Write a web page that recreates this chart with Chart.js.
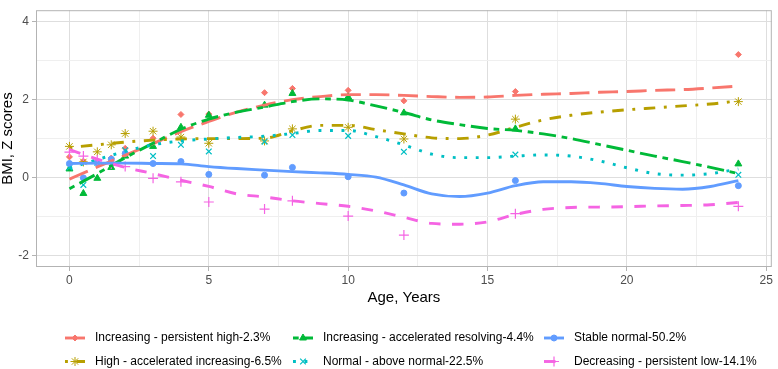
<!DOCTYPE html>
<html>
<head>
<meta charset="utf-8">
<script src="https://cdn.jsdelivr.net/npm/chart.js@4.4.1/dist/chart.umd.min.js"></script>
<style>
  html, body { margin: 0; padding: 0; background: #fff; }
  #wrap { width: 778px; height: 369px; }
</style>
</head>
<body>
<div id="wrap"><canvas id="bmi-chart" width="778" height="369"></canvas></div>
<script>
// Observed BMI z-scores per trajectory group, by age (years)
const ages = [0, 0.5, 1, 1.5, 2, 3, 4, 5, 7, 8, 10, 12, 16, 24];
const persistentHigh = [0.53, 0.42, 0.38, 0.50, 0.75, 1.01, 1.62, 1.63, 2.18, 2.29, 2.24, 1.97, 2.21, 3.16];
const highAccelerated = [0.80, 0.40, 0.66, 0.84, 1.13, 1.19, 1.04, 0.88, 0.94, 1.25, 1.29, 0.99, 1.50, 1.95];
const accelResolving = [0.22, -0.41, -0.02, 0.26, 0.55, 0.80, 1.29, 1.60, 1.86, 2.16, 2.07, 1.66, 1.25, 0.35];
const aboveNormal = [0.26, -0.19, 0.38, 0.43, 0.70, 0.55, 0.84, 0.67, 0.92, 1.09, 1.07, 0.66, 0.59, 0.07];
const stableNormal = [0.36, -0.01, 0.38, 0.47, 0.62, 0.36, 0.41, 0.08, 0.06, 0.26, 0.02, -0.40, -0.08, -0.21];
const persistentLow = [0.65, 0.55, 0.45, 0.35, 0.28, -0.02, -0.11, -0.63, -0.81, -0.60, -0.99, -1.48, -0.93, -0.74];

// Smoothed curves at whole years
const fitAges = [0, 1, 2, 3, 4, 5, 6, 7, 8, 9, 10, 11, 12, 13, 14, 15, 16, 17, 18, 19, 20, 21, 22, 23, 24];
const persistentHighFit = [-0.04, 0.27, 0.57, 0.87, 1.18, 1.44, 1.68, 1.86, 2.00, 2.08, 2.13, 2.13, 2.11, 2.08, 2.06, 2.07, 2.11, 2.14, 2.16, 2.19, 2.21, 2.24, 2.26, 2.30, 2.35];
const highAcceleratedFit = [0.77, 0.84, 0.91, 0.96, 0.99, 1.00, 1.00, 1.01, 1.20, 1.34, 1.34, 1.23, 1.12, 1.02, 1.00, 1.09, 1.29, 1.48, 1.60, 1.68, 1.74, 1.79, 1.84, 1.89, 1.97];
const accelResolvingFit = [-0.29, 0.10, 0.51, 0.88, 1.24, 1.50, 1.68, 1.81, 1.95, 2.02, 1.99, 1.84, 1.67, 1.48, 1.36, 1.26, 1.21, 1.12, 1.00, 0.85, 0.70, 0.55, 0.41, 0.26, 0.10];
const aboveNormalFit = [0.24, 0.46, 0.67, 0.84, 0.94, 0.99, 1.03, 1.06, 1.13, 1.21, 1.21, 1.05, 0.84, 0.60, 0.51, 0.51, 0.55, 0.58, 0.55, 0.43, 0.25, 0.10, 0.06, 0.10, 0.22];
const stableNormalFit = [0.36, 0.37, 0.37, 0.36, 0.35, 0.28, 0.23, 0.19, 0.15, 0.12, 0.08, 0.01, -0.19, -0.42, -0.49, -0.40, -0.21, -0.11, -0.11, -0.15, -0.23, -0.28, -0.30, -0.23, -0.08];
const persistentLowFit = [0.72, 0.47, 0.26, 0.10, -0.07, -0.23, -0.42, -0.50, -0.60, -0.67, -0.74, -0.86, -1.02, -1.18, -1.20, -1.14, -0.95, -0.82, -0.77, -0.76, -0.75, -0.73, -0.72, -0.70, -0.64];

// Axis ticks (major ones get labels)
const xGrid = [0, 2.5, 5, 7.5, 10, 12.5, 15, 17.5, 20, 22.5, 25];
const xLabels = [0, 5, 10, 15, 20, 25];
const yGrid = [-2, -1, 0, 1, 2, 3, 4];
const yLabels = [-2, 0, 2, 4];

const FONT = '"Liberation Sans", Arial, sans-serif';

// group order as in the legend (column-wise fill, 2 rows)
const groups = [
    { label: 'Increasing - persistent high-2.3%', pts: persistentHigh, fit: persistentHighFit,
      color: '#F8766D', dash: [20, 8.6], pointStyle: 'rectRot', radius: 3, pw: 1 },
    { label: 'High - accelerated increasing-6.5%', pts: highAccelerated, fit: highAcceleratedFit,
      color: '#B79F00', dash: [2.9, 8.6, 11.5, 8.6], pointStyle: 'star', radius: 4.5, pw: 1 },
    { label: 'Increasing - accelerated resolving-4.4%', pts: accelResolving, fit: accelResolvingFit,
      color: '#00BA38', dash: [5.7, 5.7, 17.2, 5.7], pointStyle: 'triangle', radius: 4, pw: 1 },
    { label: 'Normal - above normal-22.5%', pts: aboveNormal, fit: aboveNormalFit,
      color: '#00BFC4', dash: [2.9, 8.6], pointStyle: 'crossRot', radius: 4, pw: 1.2 },
    { label: 'Stable normal-50.2%', pts: stableNormal, fit: stableNormalFit,
      color: '#619CFF', dash: [], pointStyle: 'circle', radius: 3, pw: 1 },
    { label: 'Decreasing - persistent low-14.1%', pts: persistentLow, fit: persistentLowFit,
      color: '#F564E3', dash: [11.5, 11.5], pointStyle: 'cross', radius: 5, pw: 1.2 }
];

function buildDatasets() {
    const sets = [];
    groups.forEach((g, i) => {
        sets.push({
            type: 'scatter',
            label: g.label + ' points',
            data: ages.map((a, j) => ({ x: a, y: g.pts[j] })),
            showLine: false,
            pointStyle: g.pointStyle,
            pointRadius: g.radius,
            pointBorderWidth: g.pw,
            backgroundColor: g.color,
            borderColor: g.color,
            order: 20 - i
        });
        sets.push({
            type: 'line',
            label: g.label,
            data: fitAges.map((a, j) => ({ x: a, y: g.fit[j] })),
            borderColor: g.color,
            borderWidth: 2.9,
            borderDash: g.dash,
            pointRadius: 0,
            fill: false,
            cubicInterpolationMode: 'monotone',
            order: 10 - i
        });
    });
    return sets;
}

// full grey frame round the panel
const panelBorder = {
    id: 'panelBorder',
    afterDatasetsDraw(chart) {
        const { ctx, chartArea: a } = chart;
        ctx.save();
        ctx.strokeStyle = '#b3b3b3';
        ctx.lineWidth = 1;
        ctx.strokeRect(a.left + 0.5, a.top + 0.5, a.right - a.left - 1, a.bottom - a.top - 1);
        ctx.restore();
    }
};

// legend laid out as a 3 x 2 grid like the original
const legendCols = [65, 293, 544];
const legendRows = [338, 361.5];
const gridLegend = {
    id: 'gridLegend',
    afterDraw(chart) {
        const ctx = chart.ctx;
        ctx.save();
        groups.forEach((g, i) => {
            const x = legendCols[Math.floor(i / 2)];
            const y = legendRows[i % 2];
            ctx.strokeStyle = g.color;
            ctx.fillStyle = g.color;
            ctx.lineWidth = 2.9;
            ctx.setLineDash(g.dash);
            ctx.beginPath();
            ctx.moveTo(x, y);
            ctx.lineTo(x + 20, y);
            ctx.stroke();
            ctx.setLineDash([]);
            ctx.lineWidth = g.pw; // drawPoint does not set the stroke width itself
            Chart.helpers.drawPoint(ctx, {
                pointStyle: g.pointStyle, radius: g.radius, borderWidth: g.pw, rotation: 0
            }, x + 10, y);
            ctx.fillStyle = '#000';
            ctx.font = '12px ' + FONT;
            ctx.textBaseline = 'middle';
            ctx.textAlign = 'left';
            ctx.fillText(g.label, x + 30, y);
        });
        ctx.restore();
    }
};

let bmiChart = null;
function createBmiChart() {
    const ctx = document.getElementById('bmi-chart').getContext('2d');
    bmiChart = new Chart(ctx, {
        type: 'line',
        data: { datasets: buildDatasets() },
        options: {
            responsive: false,
            animation: false,
            events: [],
            layout: { padding: { top: 0, right: 1, bottom: 62, left: 0 } },
            plugins: {
                legend: { display: false },
                tooltip: { enabled: false }
            },
            scales: {
                x: {
                    type: 'linear',
                    min: -1.2,
                    max: 25.2,
                    afterBuildTicks: axis => { axis.ticks = xGrid.map(v => ({ value: v })); },
                    afterFit: axis => { axis.height = 40; },
                    ticks: {
                        autoSkip: false,
                        maxRotation: 0,
                        padding: 2,
                        color: '#4d4d4d',
                        font: { size: 12, family: FONT },
                        callback: v => xLabels.includes(v) ? String(v) : ''
                    },
                    grid: {
                        color: c => (c.tick && xLabels.includes(c.tick.value)) ? '#dedede' : '#efefef',
                        tickColor: c => (c.tick && xLabels.includes(c.tick.value)) ? '#b3b3b3' : 'rgba(0,0,0,0)',
                        tickLength: 4
                    },
                    border: { display: false },
                    title: {
                        display: true,
                        text: 'Age, Years',
                        color: '#000',
                        font: { size: 15, family: FONT },
                        padding: { top: 0, bottom: 0 }
                    }
                },
                y: {
                    type: 'linear',
                    min: -2.3,
                    max: 4.3,
                    afterBuildTicks: axis => { axis.ticks = yGrid.map(v => ({ value: v })); },
                    afterFit: axis => { axis.width = 36; },
                    ticks: {
                        padding: 3,
                        color: '#4d4d4d',
                        font: { size: 12, family: FONT },
                        callback: v => yLabels.includes(v) ? String(v) : ''
                    },
                    grid: {
                        color: c => (c.tick && yLabels.includes(c.tick.value)) ? '#dedede' : '#efefef',
                        tickColor: c => (c.tick && yLabels.includes(c.tick.value)) ? '#b3b3b3' : 'rgba(0,0,0,0)',
                        tickLength: 4
                    },
                    border: { display: false },
                    title: {
                        display: true,
                        text: 'BMI, Z scores',
                        color: '#000',
                        font: { size: 15, family: FONT, lineHeight: 1 },
                        padding: { top: 0, bottom: 0 }
                    }
                }
            }
        },
        plugins: [panelBorder, gridLegend]
    });
    return bmiChart;
}

createBmiChart();
</script>
</body>
</html>
